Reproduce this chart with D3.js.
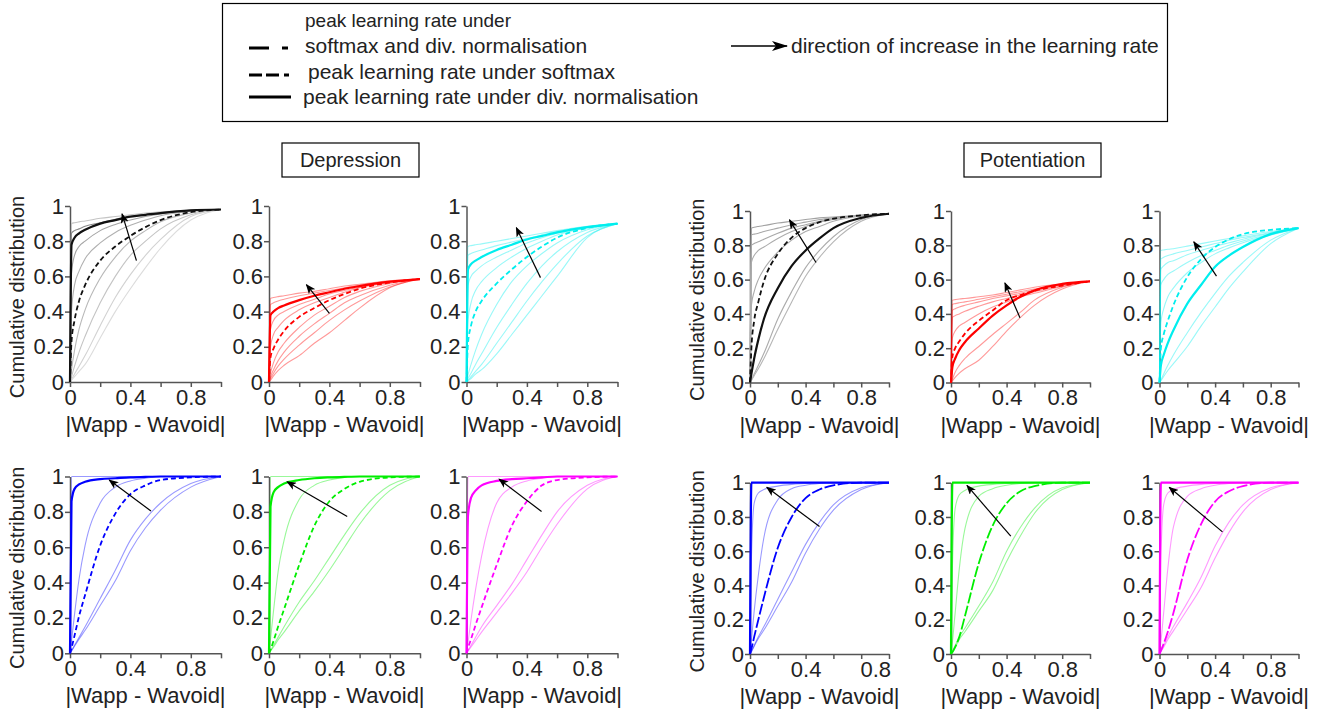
<!DOCTYPE html>
<html>
<head>
<meta charset="utf-8">
<script src="https://d3js.org/d3.v7.min.js"></script>
<style>
  body { margin: 0; background: #fff; }
  text { font-family: "Liberation Sans", Arial, Helvetica, sans-serif; fill: #222; }
</style>
</head>
<body>
<svg id="fig" width="1318" height="711"></svg>
<script>

var xGrid = [0, 0.01, 0.03, 0.06, 0.1, 0.2, 0.3, 0.4, 0.5, 0.6, 0.8, 1];
var axisTicks = [0, 0.2, 0.4, 0.6, 0.8, 1];
var xTickLabels = ["0", "", "0.4", "", "0.8", ""];
var yTickLabels = ["0", "0.2", "0.4", "0.6", "0.8", "1"];

// ---- Depression, top row ----
var depGrayThin = [
  [0, 0.90, 0.905, 0.91, 0.915, 0.93, 0.94, 0.95, 0.96, 0.967, 0.975, 0.98],
  [0, 0.845, 0.86, 0.87, 0.885, 0.905, 0.925, 0.94, 0.952, 0.962, 0.975, 0.98],
  [0, 0.62, 0.72, 0.77, 0.8, 0.86, 0.895, 0.92, 0.94, 0.955, 0.972, 0.98],
  [0, 0.4, 0.55, 0.63, 0.7, 0.79, 0.85, 0.89, 0.92, 0.945, 0.97, 0.98],
  [0, 0.07, 0.18, 0.3, 0.41, 0.59, 0.71, 0.8, 0.86, 0.91, 0.96, 0.98],
  [0, 0.03, 0.09, 0.17, 0.26, 0.45, 0.6, 0.72, 0.8, 0.87, 0.95, 0.98],
  [0, 0.015, 0.045, 0.09, 0.15, 0.32, 0.48, 0.61, 0.72, 0.81, 0.94, 0.98],
  [0, 0.01, 0.03, 0.06, 0.1, 0.25, 0.4, 0.53, 0.65, 0.76, 0.92, 0.98]
];
var depGrayBold = [0, 0.78, 0.82, 0.845, 0.865, 0.9, 0.92, 0.94, 0.95, 0.96, 0.975, 0.98];
var depGrayDash = [0, 0.23, 0.35, 0.46, 0.55, 0.69, 0.77, 0.83, 0.88, 0.92, 0.965, 0.98];
var depGrayArrow = [[0.44, 0.69], [0.345, 0.955]];

var depRedThin = [
  [0, 0.475, 0.48, 0.485, 0.49, 0.505, 0.515, 0.53, 0.545, 0.555, 0.575, 0.585],
  [0, 0.44, 0.45, 0.46, 0.47, 0.49, 0.505, 0.52, 0.535, 0.55, 0.57, 0.585],
  [0, 0.3, 0.35, 0.38, 0.4, 0.44, 0.47, 0.5, 0.52, 0.54, 0.57, 0.585],
  [0, 0.2, 0.27, 0.31, 0.35, 0.41, 0.45, 0.48, 0.51, 0.535, 0.565, 0.585],
  [0, 0.05, 0.11, 0.17, 0.22, 0.31, 0.38, 0.43, 0.48, 0.515, 0.56, 0.585],
  [0, 0.03, 0.07, 0.12, 0.17, 0.26, 0.33, 0.39, 0.45, 0.49, 0.55, 0.585],
  [0, 0.02, 0.05, 0.09, 0.13, 0.21, 0.28, 0.35, 0.41, 0.46, 0.54, 0.585],
  [0, 0.01, 0.035, 0.065, 0.095, 0.15, 0.22, 0.28, 0.35, 0.42, 0.535, 0.585]
];
var depRedBold = [0, 0.38, 0.4, 0.42, 0.435, 0.465, 0.49, 0.51, 0.53, 0.545, 0.57, 0.585];
var depRedDash = [0, 0.14, 0.19, 0.24, 0.29, 0.37, 0.42, 0.465, 0.5, 0.53, 0.565, 0.585];
var depRedArrow = [[0.4, 0.39], [0.248, 0.553]];

var depCyanThin = [
  [0, 0.77, 0.775, 0.78, 0.785, 0.8, 0.815, 0.83, 0.845, 0.86, 0.885, 0.9],
  [0, 0.72, 0.73, 0.74, 0.75, 0.775, 0.795, 0.815, 0.835, 0.855, 0.88, 0.9],
  [0, 0.55, 0.6, 0.63, 0.66, 0.71, 0.75, 0.79, 0.82, 0.845, 0.88, 0.9],
  [0, 0.35, 0.45, 0.52, 0.57, 0.65, 0.71, 0.76, 0.8, 0.835, 0.875, 0.9],
  [0, 0.04, 0.1, 0.18, 0.27, 0.44, 0.57, 0.66, 0.73, 0.79, 0.865, 0.9],
  [0, 0.02, 0.05, 0.1, 0.16, 0.31, 0.44, 0.56, 0.66, 0.74, 0.85, 0.9],
  [0, 0.01, 0.03, 0.06, 0.1, 0.22, 0.34, 0.46, 0.57, 0.67, 0.83, 0.9],
  [0, 0.007, 0.02, 0.045, 0.07, 0.16, 0.27, 0.38, 0.49, 0.6, 0.82, 0.9]
];
var depCyanBold = [0, 0.64, 0.67, 0.69, 0.71, 0.75, 0.78, 0.81, 0.83, 0.85, 0.88, 0.9];
var depCyanDash = [0, 0.22, 0.32, 0.4, 0.46, 0.56, 0.64, 0.71, 0.77, 0.82, 0.875, 0.9];
var depCyanArrow = [[0.49, 0.593], [0.33, 0.877]];

// ---- Depression, bottom row ----
var depBlueThin = [
  [0, 1, 1, 1, 1, 1, 1, 1, 1, 1, 1, 1],
  [0, 0.07, 0.22, 0.42, 0.61, 0.85, 0.94, 0.975, 0.99, 1, 1, 1],
  [0, 0.015, 0.045, 0.09, 0.15, 0.31, 0.47, 0.64, 0.76, 0.85, 0.96, 1],
  [0, 0.013, 0.04, 0.08, 0.13, 0.27, 0.41, 0.58, 0.71, 0.81, 0.94, 1]
];
var depBlueBold = [0, 0.86, 0.93, 0.955, 0.97, 0.985, 0.99, 0.995, 0.998, 1, 1, 1];
var depBlueDash = [0, 0.03, 0.1, 0.21, 0.33, 0.61, 0.79, 0.9, 0.95, 0.98, 0.995, 1];
var depBlueArrow = [[0.536, 0.805], [0.26, 0.98]];

var depGreenThin = [
  [0, 1, 1, 1, 1, 1, 1, 1, 1, 1, 1, 1],
  [0, 0.08, 0.24, 0.46, 0.64, 0.87, 0.95, 0.98, 0.995, 1, 1, 1],
  [0, 0.015, 0.045, 0.09, 0.15, 0.29, 0.41, 0.54, 0.67, 0.79, 0.95, 1],
  [0, 0.012, 0.036, 0.075, 0.12, 0.24, 0.35, 0.47, 0.6, 0.73, 0.92, 1]
];
var depGreenBold = [0, 0.83, 0.91, 0.94, 0.96, 0.98, 0.99, 0.995, 0.998, 1, 1, 1];
var depGreenDash = [0, 0.02, 0.07, 0.15, 0.25, 0.5, 0.72, 0.86, 0.93, 0.97, 0.995, 1];
var depGreenArrow = [[0.518, 0.774], [0.12, 0.97]];

var depMagentaThin = [
  [0, 1, 1, 1, 1, 1, 1, 1, 1, 1, 1, 1],
  [0, 0.06, 0.19, 0.36, 0.55, 0.85, 0.94, 0.975, 0.99, 1, 1, 1],
  [0, 0.015, 0.045, 0.09, 0.15, 0.27, 0.39, 0.53, 0.67, 0.8, 0.95, 1],
  [0, 0.012, 0.036, 0.072, 0.12, 0.23, 0.34, 0.46, 0.6, 0.73, 0.93, 1]
];
var depMagentaBold = [0, 0.78, 0.88, 0.92, 0.95, 0.975, 0.985, 0.99, 0.995, 1, 1, 1];
var depMagentaDash = [0, 0.03, 0.08, 0.16, 0.26, 0.5, 0.72, 0.86, 0.95, 0.98, 0.995, 1];
var depMagentaArrow = [[0.497, 0.802], [0.216, 0.985]];

// ---- Potentiation, top row ----
var potGrayThin = [
  [0, 0.9, 0.905, 0.91, 0.915, 0.93, 0.94, 0.95, 0.96, 0.965, 0.975, 0.984],
  [0, 0.86, 0.865, 0.87, 0.88, 0.9, 0.92, 0.935, 0.95, 0.96, 0.975, 0.984],
  [0, 0.8, 0.81, 0.82, 0.835, 0.87, 0.9, 0.92, 0.94, 0.955, 0.975, 0.984],
  [0, 0.7, 0.74, 0.77, 0.79, 0.84, 0.88, 0.91, 0.935, 0.95, 0.975, 0.984],
  [0, 0.45, 0.53, 0.6, 0.66, 0.76, 0.83, 0.88, 0.91, 0.94, 0.97, 0.984],
  [0, 0.015, 0.05, 0.1, 0.17, 0.37, 0.53, 0.67, 0.77, 0.85, 0.95, 0.984],
  [0, 0.012, 0.04, 0.08, 0.14, 0.31, 0.47, 0.62, 0.73, 0.82, 0.94, 0.984]
];
var potGrayBold = [0, 0.05, 0.14, 0.25, 0.37, 0.55, 0.68, 0.77, 0.84, 0.9, 0.96, 0.984];
var potGrayDash = [0, 0.2, 0.36, 0.47, 0.59, 0.75, 0.845, 0.9, 0.935, 0.955, 0.975, 0.984];
var potGrayArrow = [[0.475, 0.70], [0.284, 0.948]];

var potRedThin = [
  [0, 0.48, 0.483, 0.487, 0.49, 0.5, 0.51, 0.525, 0.54, 0.555, 0.575, 0.59],
  [0, 0.455, 0.46, 0.465, 0.47, 0.485, 0.5, 0.515, 0.53, 0.545, 0.57, 0.59],
  [0, 0.42, 0.43, 0.44, 0.45, 0.47, 0.49, 0.505, 0.52, 0.54, 0.57, 0.59],
  [0, 0.38, 0.39, 0.4, 0.415, 0.445, 0.47, 0.49, 0.51, 0.53, 0.565, 0.59],
  [0, 0.26, 0.3, 0.33, 0.35, 0.4, 0.44, 0.47, 0.5, 0.52, 0.56, 0.59],
  [0, 0.02, 0.06, 0.1, 0.14, 0.21, 0.28, 0.345, 0.41, 0.48, 0.555, 0.59],
  [0, 0.01, 0.03, 0.055, 0.08, 0.13, 0.21, 0.3, 0.38, 0.45, 0.545, 0.59]
];
var potRedBold = [0, 0.09, 0.14, 0.19, 0.235, 0.315, 0.39, 0.45, 0.5, 0.537, 0.575, 0.59];
var potRedDash = [0, 0.15, 0.2, 0.24, 0.285, 0.36, 0.42, 0.48, 0.51, 0.535, 0.565, 0.59];
var potRedArrow = [[0.496, 0.378], [0.388, 0.58]];

var potCyanThin = [
  [0, 0.77, 0.773, 0.777, 0.78, 0.795, 0.81, 0.825, 0.84, 0.855, 0.88, 0.9],
  [0, 0.72, 0.73, 0.74, 0.75, 0.77, 0.79, 0.81, 0.83, 0.845, 0.875, 0.9],
  [0, 0.66, 0.68, 0.7, 0.71, 0.745, 0.77, 0.795, 0.815, 0.835, 0.87, 0.9],
  [0, 0.57, 0.6, 0.63, 0.65, 0.7, 0.74, 0.77, 0.8, 0.825, 0.865, 0.9],
  [0, 0.35, 0.43, 0.5, 0.55, 0.64, 0.7, 0.75, 0.785, 0.815, 0.86, 0.9],
  [0, 0.015, 0.05, 0.1, 0.16, 0.29, 0.41, 0.52, 0.62, 0.7, 0.83, 0.9],
  [0, 0.01, 0.035, 0.07, 0.11, 0.21, 0.33, 0.44, 0.55, 0.645, 0.81, 0.9]
];
var potCyanBold = [0, 0.1, 0.16, 0.23, 0.305, 0.46, 0.57, 0.675, 0.74, 0.79, 0.865, 0.9];
var potCyanDash = [0, 0.2, 0.28, 0.36, 0.45, 0.615, 0.72, 0.79, 0.835, 0.865, 0.89, 0.9];
var potCyanArrow = [[0.41, 0.62], [0.247, 0.82]];

// ---- Potentiation, bottom row ----
var potBlueThin = [
  [0, 0.55, 0.88, 0.94, 0.96, 0.98, 0.99, 0.995, 1, 1, 1, 1],
  [0, 0.08, 0.25, 0.46, 0.68, 0.9, 0.965, 0.985, 0.995, 1, 1, 1],
  [0, 0.015, 0.05, 0.1, 0.16, 0.32, 0.48, 0.64, 0.77, 0.87, 0.97, 1],
  [0, 0.013, 0.045, 0.09, 0.14, 0.28, 0.42, 0.59, 0.73, 0.84, 0.96, 1]
];
var potBlueBold = [0, 1, 1, 1, 1, 1, 1, 1, 1, 1, 1, 1];
var potBlueDash = [0, 0.03, 0.1, 0.2, 0.33, 0.62, 0.8, 0.91, 0.96, 0.985, 1, 1];
var potBlueArrow = [[0.5, 0.744], [0.121, 0.973]];

var potGreenThin = [
  [0, 0.5, 0.85, 0.93, 0.955, 0.98, 0.99, 0.995, 1, 1, 1, 1],
  [0, 0.07, 0.24, 0.5, 0.73, 0.92, 0.965, 0.985, 0.995, 1, 1, 1],
  [0, 0.015, 0.05, 0.1, 0.15, 0.28, 0.42, 0.6, 0.74, 0.85, 0.97, 1],
  [0, 0.013, 0.04, 0.085, 0.13, 0.25, 0.37, 0.54, 0.69, 0.82, 0.96, 1]
];
var potGreenBold = [0, 1, 1, 1, 1, 1, 1, 1, 1, 1, 1, 1];
var potGreenDash = [0, 0.01, 0.04, 0.1, 0.22, 0.53, 0.75, 0.88, 0.95, 0.98, 1, 1];
var potGreenArrow = [[0.43, 0.6875], [0.115, 0.984]];

var potMagentaThin = [
  [0, 0.55, 0.87, 0.94, 0.96, 0.98, 0.99, 0.995, 1, 1, 1, 1],
  [0, 0.07, 0.24, 0.5, 0.74, 0.92, 0.965, 0.985, 0.995, 1, 1, 1],
  [0, 0.015, 0.05, 0.1, 0.16, 0.3, 0.45, 0.63, 0.77, 0.87, 0.97, 1],
  [0, 0.013, 0.04, 0.085, 0.135, 0.26, 0.39, 0.56, 0.71, 0.83, 0.96, 1]
];
var potMagentaBold = [0, 1, 1, 1, 1, 1, 1, 1, 1, 1, 1, 1];
var potMagentaDash = [0, 0.02, 0.06, 0.13, 0.24, 0.55, 0.76, 0.89, 0.95, 0.98, 1, 1];
var potMagentaArrow = [[0.453, 0.713], [0.07, 0.973]];

var legendItems = [
  ["peak learning rate under", "softmax and div. normalisation"],
  ["peak learning rate under softmax"],
  ["peak learning rate under div. normalisation"]
];
var arrowLegendText = "direction of increase in the learning rate";
var groupTitles = ["Depression", "Potentiation"];

// ---------------------------------------------------------------------------
var svg = d3.select("#fig");
var dashStd = "5,3", dashMix = "11,2.5";

var defs = svg.append("defs");
defs.append("marker").attr("id", "head")
  .attr("markerUnits", "userSpaceOnUse")
  .attr("viewBox", "0 0 10 8").attr("refX", 9).attr("refY", 4)
  .attr("markerWidth", 10).attr("markerHeight", 8).attr("orient", "auto")
  .append("path").attr("d", "M0,0 L10,4 L0,8 L2.5,4 z").attr("fill", "#000");
defs.append("marker").attr("id", "headBig")
  .attr("markerUnits", "userSpaceOnUse")
  .attr("viewBox", "0 0 16 10").attr("refX", 15).attr("refY", 5)
  .attr("markerWidth", 16).attr("markerHeight", 10).attr("orient", "auto")
  .append("path").attr("d", "M0,0 L16,5 L0,10 L4,5 z").attr("fill", "#000");

// panel layout (pixels)
var depCols = [70, 269, 466.5], depW = 151;
var potCols = [750, 951, 1159.5], potW = 139;
var depRows = [[206, 382], [476.5, 653.3]];
var potRows = [[211, 382.5], [482.7, 654]];

var grayD = ["#c4c4c4", "#8a8a8a", "#a4a4a4", "#b0b0b0", "#b8b8b8", "#c4c4c4", "#d2d2d2", "#dcdcdc"];
var grayP = ["#a2a2a2", "#a8a8a8", "#a8a8a8", "#acacac", "#acacac", "#acacac", "#b6b6b6"];

var panels = [
  {thin: depGrayThin, bold: depGrayBold, dash: depGrayDash, arrow: depGrayArrow, color: "#111", thinColors: grayD, left: depCols[0], w: depW, row: depRows[0], title: true, dashes: dashStd},
  {thin: depRedThin, bold: depRedBold, dash: depRedDash, arrow: depRedArrow, color: "#ff0000", left: depCols[1], w: depW, row: depRows[0], dashes: dashStd},
  {thin: depCyanThin, bold: depCyanBold, dash: depCyanDash, arrow: depCyanArrow, color: "#00eeee", left: depCols[2], w: depW, row: depRows[0], dashes: dashStd},
  {thin: depBlueThin, bold: depBlueBold, dash: depBlueDash, arrow: depBlueArrow, color: "#0000ff", left: depCols[0], w: depW, row: depRows[1], title: true, dashes: dashStd},
  {thin: depGreenThin, bold: depGreenBold, dash: depGreenDash, arrow: depGreenArrow, color: "#00ee00", left: depCols[1], w: depW, row: depRows[1], dashes: dashStd},
  {thin: depMagentaThin, bold: depMagentaBold, dash: depMagentaDash, arrow: depMagentaArrow, color: "#ff00ff", left: depCols[2], w: depW, row: depRows[1], dashes: dashStd},
  {thin: potGrayThin, bold: potGrayBold, dash: potGrayDash, arrow: potGrayArrow, color: "#111", thinColors: grayP, left: potCols[0], w: potW, row: potRows[0], title: true, dashes: dashStd},
  {thin: potRedThin, bold: potRedBold, dash: potRedDash, arrow: potRedArrow, color: "#ff0000", left: potCols[1], w: potW, row: potRows[0], dashes: dashStd},
  {thin: potCyanThin, bold: potCyanBold, dash: potCyanDash, arrow: potCyanArrow, color: "#00eeee", left: potCols[2], w: potW, row: potRows[0], dashes: dashStd},
  {thin: potBlueThin, bold: potBlueBold, dash: potBlueDash, arrow: potBlueArrow, color: "#0000ff", left: potCols[0], w: potW, row: potRows[1], title: true, dashes: dashMix, shift08: 14},
  {thin: potGreenThin, bold: potGreenBold, dash: potGreenDash, arrow: potGreenArrow, color: "#00ee00", left: potCols[1], w: potW, row: potRows[1], dashes: dashMix},
  {thin: potMagentaThin, bold: potMagentaBold, dash: potMagentaDash, arrow: potMagentaArrow, color: "#ff00ff", left: potCols[2], w: potW, row: potRows[1], dashes: dashMix}
];

function toPts(vals) { return xGrid.map(function(g, i) { return [g, vals[i]]; }); }

panels.forEach(function(p) {
  var x = d3.scaleLinear().domain([0, 1]).range([p.left, p.left + p.w]);
  var y = d3.scaleLinear().domain([0, 1]).range([p.row[1], p.row[0]]);
  var g = svg.append("g");

  // axes
  var ax = g.append("g").attr("transform", "translate(0," + p.row[1] + ")")
    .call(d3.axisBottom(x).tickValues(axisTicks).tickSize(5).tickSizeOuter(0).tickPadding(2)
      .tickFormat(function(d, i) { return xTickLabels[i]; }));
  var ay = g.append("g").attr("transform", "translate(" + p.left + ",0)")
    .call(d3.axisLeft(y).tickValues(axisTicks).tickSize(5).tickSizeOuter(0).tickPadding(1)
      .tickFormat(function(d, i) { return yTickLabels[i]; }));
  [ax, ay].forEach(function(a) {
    a.selectAll("path, line").attr("stroke", "#555").attr("stroke-width", 1.5);
    a.selectAll("text").style("font-size", "22px").attr("fill", "#222");
  });
  if (p.shift08) {
    ax.selectAll(".tick text").filter(function(d) { return d === 0.8; }).attr("dx", p.shift08);
  }

  var line = d3.line()
    .x(function(d) { return x(d[0]); })
    .y(function(d) { return y(d[1]); })
    .curve(d3.curveMonotoneX);

  // light curves for the other learning rates
  g.selectAll("path.thin").data(p.thin).enter().append("path")
    .attr("class", "thin")
    .attr("d", function(d) { return line(toPts(d)); })
    .attr("fill", "none")
    .attr("stroke", function(d, i) { return p.thinColors ? p.thinColors[i] : p.color; })
    .attr("stroke-opacity", p.thinColors ? 1 : 0.4)
    .attr("stroke-width", 1.1);

  g.append("path").attr("d", line(toPts(p.dash)))
    .attr("fill", "none").attr("stroke", p.color)
    .attr("stroke-width", 1.8).attr("stroke-dasharray", p.dashes);

  g.append("path").attr("d", line(toPts(p.bold)))
    .attr("fill", "none").attr("stroke", p.color).attr("stroke-width", 2.2);

  g.append("line")
    .attr("x1", x(p.arrow[0][0])).attr("y1", y(p.arrow[0][1]))
    .attr("x2", x(p.arrow[1][0])).attr("y2", y(p.arrow[1][1]))
    .attr("stroke", "#000").attr("stroke-width", 1.2)
    .attr("marker-end", "url(#head)");

  // axis titles
  g.append("text")
    .attr("x", x(0.5)).attr("y", p.row[1] + 50)
    .attr("text-anchor", "middle").style("font-size", "22px")
    .text("|Wapp - Wavoid|");
  if (p.title) {
    var cy = (p.row[0] + p.row[1]) / 2 + 3;
    g.append("text")
      .attr("transform", "translate(" + (p.left - 46) + "," + cy + ") rotate(-90)")
      .attr("text-anchor", "middle").style("font-size", "20px")
      .text("Cumulative distribution");
  }
});

// group titles in boxes
var titleBoxes = [[282, 143, 137, 34], [964, 143, 137, 34]];
titleBoxes.forEach(function(b, i) {
  svg.append("rect").attr("x", b[0]).attr("y", b[1]).attr("width", b[2]).attr("height", b[3])
    .attr("fill", "none").attr("stroke", "#000").attr("stroke-width", 1.2);
  svg.append("text").attr("x", b[0] + b[2] / 2).attr("y", b[1] + 24)
    .attr("text-anchor", "middle").style("font-size", "20px").attr("fill", "#000")
    .text(groupTitles[i]);
});

// legend
var lg = svg.append("g");
lg.append("rect").attr("x", 222.5).attr("y", 3.5).attr("width", 945).attr("height", 118)
  .attr("fill", "none").attr("stroke", "#000").attr("stroke-width", 1.2);

var sampleDash = ["20,13,6,100", "13,4,13,5,5,100", null];
var sampleY = [48, 75, 97];
var textRows = [[20, 46], [72], [97]];
var textLeft = [305, 308, 303];
var textSizes = [[19, 21], [21], [21]];
legendItems.forEach(function(lines, i) {
  var s = lg.append("line").attr("x1", 249).attr("x2", 291)
    .attr("y1", sampleY[i]).attr("y2", sampleY[i])
    .attr("stroke", "#000").attr("stroke-width", 3.2);
  if (sampleDash[i]) s.attr("stroke-dasharray", sampleDash[i]);
  lines.forEach(function(t, j) {
    lg.append("text").attr("x", textLeft[i]).attr("y", textRows[i][j] + 7)
      .style("font-size", textSizes[i][j] + "px").attr("fill", "#000").text(t);
  });
});
lg.append("line").attr("x1", 731).attr("x2", 787).attr("y1", 46).attr("y2", 46)
  .attr("stroke", "#000").attr("stroke-width", 1.5).attr("marker-end", "url(#headBig)");
lg.append("text").attr("x", 791).attr("y", 53).style("font-size", "21px")
  .attr("fill", "#000").text(arrowLegendText);

</script>
</body>
</html>
